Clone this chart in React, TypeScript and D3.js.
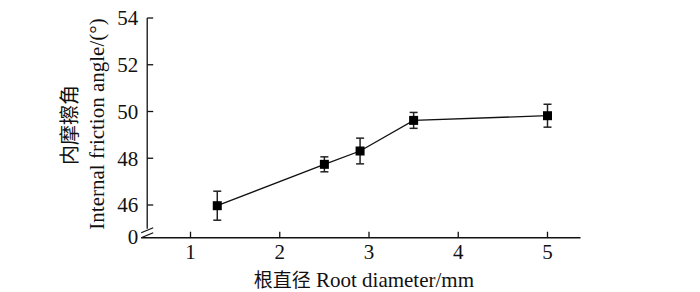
import React from 'react';
import { scaleLinear, line } from 'd3';

const diameters = [1.3, 2.5, 2.9, 3.5, 5.0];
const frictionAngle = [45.97, 47.74, 48.31, 49.62, 49.82];
const errors = [0.62, 0.32, 0.55, 0.34, 0.49];
const xTicks = [1, 2, 3, 4, 5];
const yTicks = [46, 48, 50, 52, 54];
const yBreakLabel = '0';

const W = 700;
const H = 292;
const FONT = '"Liberation Serif", "Times New Roman", serif';
const CJK = '"Noto Sans CJK SC", serif';

const App = () => {
  const x = scaleLinear().domain([1, 5]).range([190.5, 547.5]);
  const y = scaleLinear().domain([46, 54]).range([205, 18]);

  const left = x(0.515);
  const right = x(5.37);
  const bottom = y(44.6); // position of the broken "0" baseline
  const tickLen = 6;

  const pts = diameters.map((d, i) => [x(d), y(frictionAngle[i])] as [number, number]);
  const path = line()(pts) || '';

  return (
    <svg width={W} height={H} style={{ position: 'absolute', left: 0, top: 0 }}>
      <rect width={W} height={H} fill="#fff" />
      {/* axes */}
      <g stroke="#111" strokeWidth={1.3} fill="none">
        <line x1={left} y1={y(54)} x2={left} y2={bottom - 9} />
        <line x1={left - 6} y1={bottom - 5} x2={left + 6} y2={bottom - 10} />
        <line x1={left - 6} y1={bottom} x2={left + 6} y2={bottom - 5} />
        <line x1={left - 6} y1={bottom} x2={right} y2={bottom} />
        {yTicks.map(t => (
          <line key={t} x1={left} y1={y(t)} x2={left + tickLen} y2={y(t)} />
        ))}
        {xTicks.map(t => (
          <line key={t} x1={x(t)} y1={bottom} x2={x(t)} y2={bottom - tickLen} />
        ))}
      </g>
      {/* tick labels */}
      <g fontFamily={FONT} fontSize={21} fill="#111">
        {yTicks.map(t => (
          <text key={t} x={left - 9} y={y(t)} dy="0.35em" textAnchor="end">{t}</text>
        ))}
        <text x={left - 9} y={bottom} dy="0.3em" textAnchor="end">{yBreakLabel}</text>
        {xTicks.map(t => (
          <text key={t} x={x(t)} y={259} textAnchor="middle">{t}</text>
        ))}
      </g>
      {/* axis titles */}
      <text x={(left + right) / 2} y={287} textAnchor="middle" fontSize={21} fill="#111" fontFamily={FONT}>
        <tspan fontFamily={CJK} fontSize={19}>根直径</tspan>
        <tspan> Root diameter/mm</tspan>
      </text>
      <text transform={`translate(77,125) rotate(-90)`} textAnchor="middle" fontFamily={CJK} fontSize={20} fill="#111">内摩擦角</text>
      <text transform={`translate(104,124) rotate(-90)`} textAnchor="middle" fontFamily={FONT} fontSize={21} fill="#111">Internal friction angle/(°)</text>
      {/* data */}
      <path d={path} fill="none" stroke="#111" strokeWidth={1.3} />
      <g stroke="#222" strokeWidth={1.5}>
        {diameters.map((d, i) => {
          const cx = x(d);
          const top = y(frictionAngle[i] + errors[i]);
          const bot = y(frictionAngle[i] - errors[i]);
          return (
            <g key={i}>
              <line x1={cx} y1={top} x2={cx} y2={bot} />
              <line x1={cx - 4} y1={top} x2={cx + 4} y2={top} />
              <line x1={cx - 4} y1={bot} x2={cx + 4} y2={bot} />
            </g>
          );
        })}
      </g>
      {pts.map(([px, py], i) => (
        <rect key={i} x={px - 4.5} y={py - 4.5} width={9} height={9} fill="#000" />
      ))}
    </svg>
  );
};

export default App;
